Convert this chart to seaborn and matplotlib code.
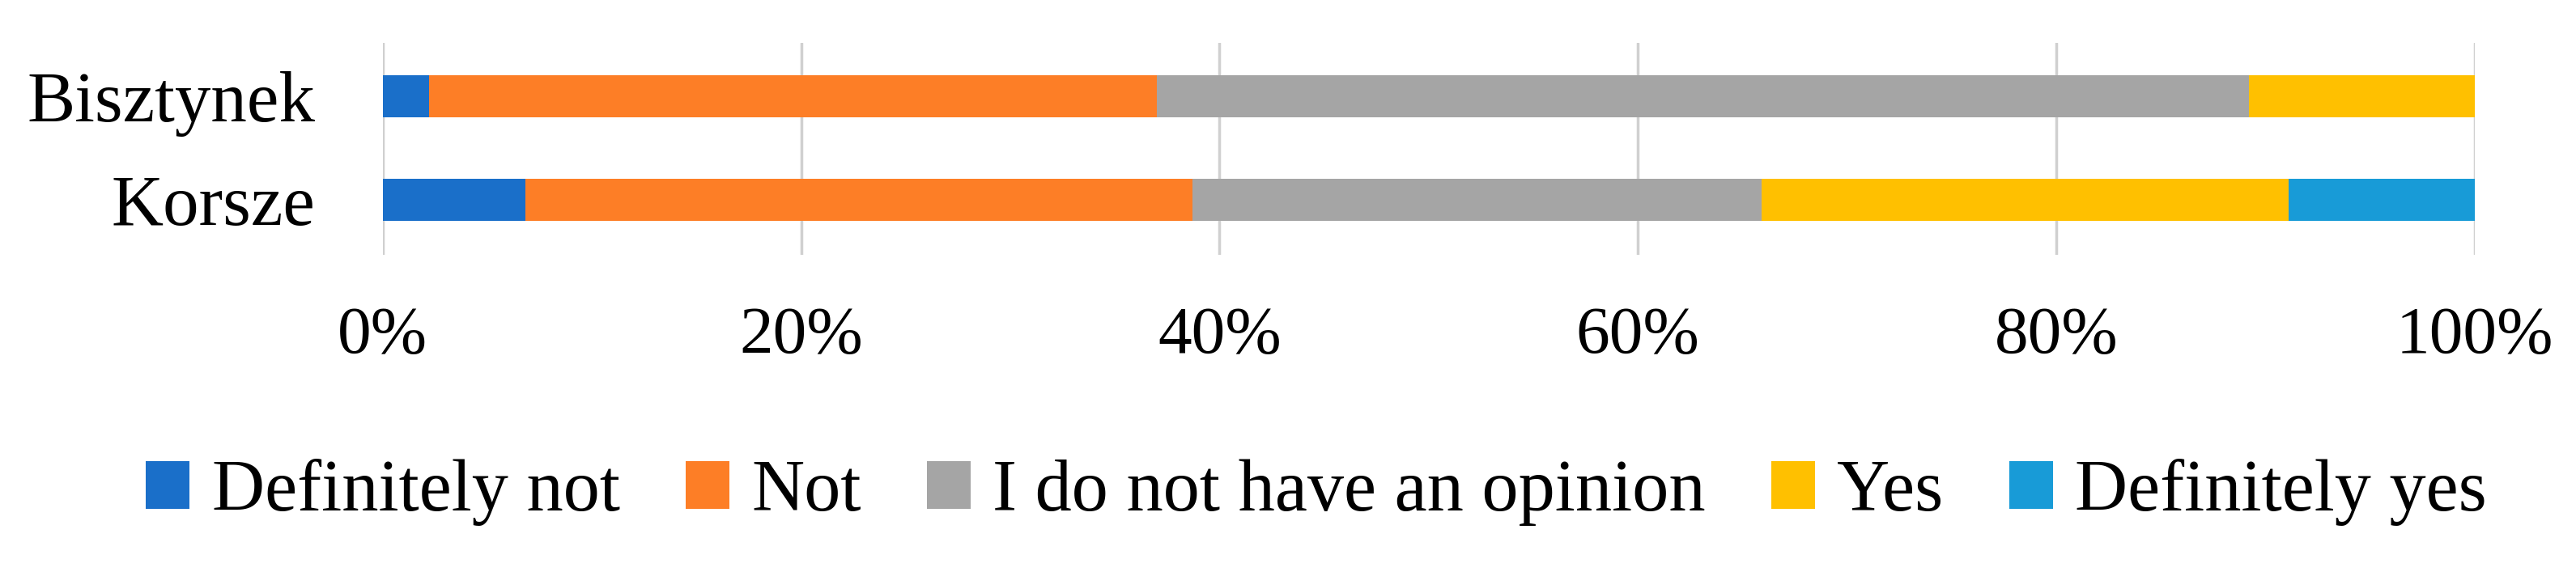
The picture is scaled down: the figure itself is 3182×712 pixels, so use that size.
import matplotlib
matplotlib.use("Agg")
import matplotlib.pyplot as plt
import pandas as pd
import numpy as np
import seaborn as sns
from matplotlib.patches import Patch
from matplotlib.ticker import FuncFormatter

towns = ["Bisztynek", "Korsze"]
answers = ["Definitely not", "Not", "I do not have an opinion", "Yes", "Definitely yes"]
definitely_not = [2.2, 6.8]
not_ = [34.8, 31.9]
no_opinion = [52.2, 27.2]
yes = [10.8, 25.2]
definitely_yes = [0.0, 8.9]
colors = ["#1A6FC9", "#FD7E26", "#A5A5A5", "#FFC000", "#189BD7"]

df = pd.DataFrame({"town": towns, "Definitely not": definitely_not, "Not": not_,
                   "I do not have an opinion": no_opinion, "Yes": yes,
                   "Definitely yes": definitely_yes})
cum = df[answers].cumsum(axis=1)
cum["town"] = df["town"]

sns.set_theme(style="white")
plt.rcParams["font.family"] = ["Liberation Serif", "DejaVu Serif"]

fig = plt.figure(figsize=(31.82, 7.12), dpi=100)
ax = fig.add_axes([0.1486, 0.5576, 0.9607 - 0.1486, 0.9256 - 0.5576])

# stacked bars: draw cumulative totals from the last answer back to the first
for ans, col in reversed(list(zip(answers, colors))):
    sns.barplot(data=cum, x=ans, y="town", order=towns, orient="h", color=col,
                width=0.406, linewidth=0, saturation=1, ax=ax)

ax.set_xlim(0, 100)
ax.set_ylim(1.53, -0.516)
ax.set_xticks(np.arange(0, 101, 20))
ax.xaxis.set_major_formatter(FuncFormatter(lambda v, p: f"{v:.0f}%"))
ax.set_xlabel("")
ax.set_ylabel("")
ax.set_axisbelow(True)
ax.grid(axis="x", color="#D0D0D0", linewidth=2.5)
ax.grid(axis="y", visible=False)
for s in ax.spines.values():
    s.set_visible(False)
ax.tick_params(axis="x", length=0, pad=46, labelsize=60, labelcolor="black")
ax.tick_params(axis="y", length=0, pad=60, labelsize=64, labelcolor="black")

handles = [Patch(facecolor=c, edgecolor="none", label=a) for a, c in zip(answers, colors)]
fig.legend(handles=handles, loc="center", bbox_to_anchor=(0.511, 0.1447), ncol=5,
           frameon=False, fontsize=65, labelcolor="black", handlelength=0.6,
           handleheight=0.63, handletextpad=0.3, columnspacing=0.9, borderaxespad=0)

fig.savefig("out.png", dpi=100, facecolor="white")
